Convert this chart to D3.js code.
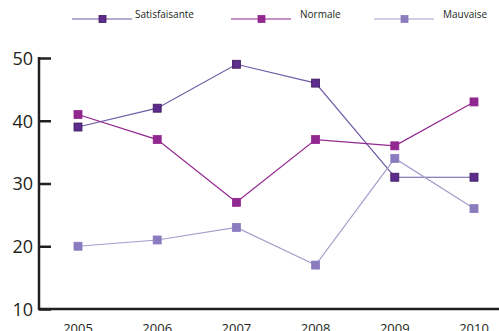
<!DOCTYPE html>
<html>
<head>
<meta charset="utf-8">
<script src="https://cdn.jsdelivr.net/npm/d3@7"></script>
<style>
  body { margin: 0; background: #fff; }
  text { font-family: "Open Sans", "DejaVu Sans", sans-serif; fill: #231f20; }
</style>
</head>
<body>
<div id="graph"></div>
<script>
// data
var years = ["2005", "2006", "2007", "2008", "2009", "2010"];
var satisfaisante = [39, 42, 49, 46, 31, 31];
var normale = [41, 37, 27, 37, 36, 43];
var mauvaise = [20, 21, 23, 17, 34, 26];
var yTicks = [10, 20, 30, 40, 50];

var W = 499, H = 331;
var svg = d3.select("#graph").append("svg")
    .attr("width", W).attr("height", H);

var x = d3.scalePoint().domain(years).range([78, 474]);
var y = d3.scaleLinear().domain([10, 50]).range([309, 58]);

var series = [
  {name: "Satisfaisante", values: satisfaisante, line: "#6f5aa6", fill: "#5e2c8c", stroke: "#3a1a5c", lx: 72},
  {name: "Normale", values: normale, line: "#92278f", fill: "#92278f", stroke: "#92278f", lx: 231},
  {name: "Mauvaise", values: mauvaise, line: "#a59dcc", fill: "#8a7cbf", stroke: "#8a7cbf", lx: 374}
];

// axes
var yAxis = svg.append("g")
    .attr("transform", "translate(39,0)")
    .call(d3.axisRight(y).tickValues(yTicks).tickSize(12).tickFormat(d3.format("d")));
yAxis.select(".domain").remove();
yAxis.selectAll("line").attr("stroke", "#231f20").attr("stroke-width", 2.5);
yAxis.selectAll("text").attr("x", -6).attr("text-anchor", "end")
    .style("font-size", "18px").attr("dy", "0.35em");

svg.append("line").attr("x1", 39).attr("x2", 39).attr("y1", 57).attr("y2", 310)
    .attr("stroke", "#231f20").attr("stroke-width", 2.5);
svg.append("line").attr("x1", 38).attr("x2", 499).attr("y1", 309).attr("y2", 309)
    .attr("stroke", "#231f20").attr("stroke-width", 2.5);

svg.append("g").selectAll("text").data(years).enter().append("text")
    .attr("x", function(d) { return x(d); })
    .attr("y", 333)
    .attr("text-anchor", "middle")
    .style("font-size", "13px")
    .text(function(d) { return d; });

var line = d3.line()
    .x(function(d, i) { return x(years[i]); })
    .y(function(d) { return y(d); });

var ms = 8;
series.forEach(function(s) {
  svg.append("path").datum(s.values)
      .attr("d", line)
      .attr("fill", "none")
      .attr("stroke", s.line)
      .attr("stroke-width", 1.2);
  svg.append("g").selectAll("rect").data(s.values).enter().append("rect")
      .attr("x", function(d, i) { return x(years[i]) - ms / 2; })
      .attr("y", function(d) { return y(d) - ms / 2; })
      .attr("width", ms).attr("height", ms)
      .attr("fill", s.fill)
      .attr("stroke", s.stroke).attr("stroke-width", 0.8);

  // legend
  var g = svg.append("g").attr("transform", "translate(" + s.lx + ",19)");
  g.append("line").attr("x1", 0).attr("x2", 60).attr("y1", 0).attr("y2", 0)
      .attr("stroke", s.line).attr("stroke-width", 1.2);
  g.append("rect").attr("x", 27).attr("y", -3.5).attr("width", 7).attr("height", 7)
      .attr("fill", s.fill).attr("stroke", s.stroke).attr("stroke-width", 0.8);
  g.append("text").attr("x", s.name === "Satisfaisante" ? 63 : 69).attr("y", -1)
      .style("font-size", "10px")
      .text(s.name);
});
</script>
</body>
</html>
